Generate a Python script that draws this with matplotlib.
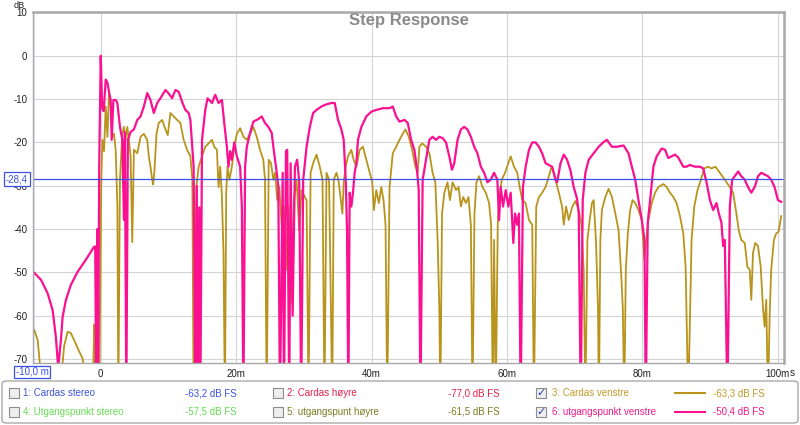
import matplotlib.pyplot as plt
from matplotlib.patches import FancyBboxPatch, Rectangle
from matplotlib.lines import Line2D

plt.rcParams['font.family'] = ['Liberation Sans', 'DejaVu Sans']

# step response, time in ms, level in dB
pink = [(-9.81, -50.1), (-8.82, -51.7), (-7.84, -54.8), (-7.10, -58.7), (-6.62, -64.9),
        (-6.28, -72), (-5.88, -65.6), (-5.63, -60.3), (-5.15, -56.4), (-4.41, -52.9),
        (-3.43, -49.9), (-2.21, -47.1), (-0.99, -44.1), (-0.81, -44.0), (-0.66, -80),
        (-0.51, -40), (-0.40, -80), (-0.22, -25), (0.00, 0.0), (0.22, -12.0),
        (0.44, -12.8), (0.74, -5.5), (0.99, -6.2), (1.22, -8.3), (1.47, -10.2),
        (1.62, -19.4), (1.87, -10.2), (2.21, -10.2), (2.46, -10.9), (2.84, -16.4),
        (3.19, -19.4), (3.43, -37.9), (3.57, -17.6), (3.78, -80), (4.01, -19.4),
        (4.41, -17.6), (4.90, -17.0), (5.40, -14.8), (5.88, -14.0), (6.37, -11.7),
        (6.87, -8.6), (7.35, -10.2), (7.84, -13.2), (8.34, -10.9), (8.82, -9.8),
        (9.56, -7.9), (10.04, -8.7), (10.54, -9.8), (11.03, -7.9), (11.51, -8.3),
        (12.01, -10.6), (12.50, -12.5), (12.99, -13.2), (13.24, -14.8), (13.72, -25.6),
        (13.97, -80), (14.19, -30), (14.34, -80), (14.56, -35), (14.71, -80),
        (14.96, -19.4), (15.44, -12.5), (15.78, -9.8), (16.43, -10.9), (16.91, -9.0),
        (17.40, -10.9), (17.90, -10.2), (18.24, -15.5), (18.63, -21.0), (18.87, -25.6),
        (19.12, -22.0), (19.37, -24.0), (19.71, -20.0), (20.10, -23.2), (20.59, -25.6),
        (20.84, -34.8), (21.07, -80), (21.32, -25.6), (21.57, -21.0), (22.06, -17.8),
        (22.54, -15.2), (23.28, -14.6), (23.78, -14.0), (24.26, -15.5), (24.75, -16.4),
        (25.25, -17.8), (25.49, -21.0), (25.88, -25.6), (26.22, -30.0), (26.47, -80),
        (26.87, -27.0), (27.06, -80), (27.35, -22.0), (27.54, -21.7), (27.84, -80),
        (28.04, -24.8), (28.34, -60.0), (28.68, -25.6), (29.01, -24.0), (29.31, -29.0),
        (29.60, -80), (29.90, -28.6), (30.40, -21.0), (30.88, -16.4), (31.37, -13.2),
        (31.87, -12.5), (32.60, -11.7), (33.34, -11.2), (34.07, -10.9), (34.56, -10.9),
        (35.04, -14.8), (35.54, -17.0), (35.88, -19.4), (36.18, -28.6), (36.37, -40.0),
        (36.57, -80), (36.76, -31.6), (37.01, -34.8), (37.25, -31.6), (37.50, -27.0),
        (37.75, -24.8), (37.99, -19.4), (38.49, -16.4), (39.22, -14.0), (39.96, -12.9),
        (40.69, -12.5), (41.66, -12.1), (42.65, -12.1), (43.13, -11.7), (43.63, -14.0),
        (44.12, -15.2), (44.85, -14.8), (45.34, -15.5), (45.84, -19.4), (46.32, -21.7),
        (46.66, -25.6), (46.96, -31.0), (47.21, -80), (47.54, -28.6), (48.04, -24.0),
        (48.53, -19.4), (49.01, -18.7), (49.51, -19.4), (50.00, -18.7), (50.49, -19.0),
        (50.99, -20.0), (51.47, -23.2), (51.87, -26.3), (52.21, -24.8), (52.69, -19.4),
        (53.19, -17.0), (53.68, -16.4), (54.16, -17.0), (54.66, -18.7), (55.15, -21.0),
        (55.63, -22.5), (56.13, -25.6), (56.62, -27.0), (57.10, -29.2), (57.60, -28.6),
        (58.09, -27.0), (58.57, -28.6), (58.82, -37.9), (59.07, -30.3), (59.41, -34.8),
        (59.81, -31.0), (60.19, -34.8), (60.54, -31.6), (60.93, -43.2), (61.18, -36.4),
        (61.51, -39.0), (61.76, -36.4), (62.01, -80), (62.35, -30.3), (62.75, -25.6),
        (63.24, -21.7), (63.72, -20.0), (64.22, -20.0), (64.71, -21.0), (65.19, -22.5),
        (65.69, -24.8), (66.18, -25.2), (66.66, -25.6), (67.16, -28.6), (67.40, -29.2),
        (67.90, -24.8), (68.38, -22.8), (68.87, -24.0), (69.37, -26.5), (69.85, -30.3),
        (70.34, -33.0), (70.59, -36.4), (70.88, -80), (71.18, -33.3), (71.57, -27.0),
        (72.06, -24.0), (72.79, -22.5), (73.53, -21.0), (74.26, -19.9), (74.75, -19.4),
        (75.49, -21.0), (76.22, -21.0), (77.21, -20.7), (77.94, -22.5), (78.43, -25.6),
        (78.93, -28.6), (79.41, -33.3), (79.90, -37.9), (80.29, -42.5), (80.49, -80),
        (80.78, -38.5), (81.13, -33.3), (81.62, -25.6), (82.10, -23.2), (82.84, -21.4),
        (83.34, -21.7), (83.82, -23.6), (84.31, -23.2), (84.81, -22.8), (85.29, -23.5),
        (86.03, -25.6), (86.51, -25.6), (87.01, -25.2), (87.75, -25.6), (88.49, -25.6),
        (88.97, -26.0), (89.46, -29.2), (89.96, -33.3), (90.44, -35.6), (90.93, -34.0),
        (91.28, -36.4), (91.66, -38.5), (91.91, -43.9), (92.16, -42.5), (92.54, -80),
        (92.90, -34.8), (93.24, -28.6), (93.63, -27.8), (94.12, -26.7), (94.60, -27.8),
        (95.10, -28.6), (95.59, -30.3), (96.07, -31.6), (96.57, -30.3), (97.06, -27.8),
        (97.54, -27.0), (98.04, -27.4), (98.53, -27.8), (99.01, -28.6), (99.51, -30.3),
        (100.00, -33.3), (100.49, -33.7)]

gold = [(-9.81, -63.3), (-9.31, -65.6), (-8.93, -72), (-8.09, -80), (-6.18, -80),
        (-5.40, -67.0), (-4.90, -63.7), (-4.41, -64.0), (-3.93, -65.6), (-3.19, -68.2),
        (-2.69, -69.8), (-2.46, -72), (-1.76, -80), (-1.10, -72), (-0.96, -62.0),
        (-0.74, -80), (-0.44, -45.0), (-0.22, -80), (0.07, -30.0), (0.25, -19.4),
        (0.49, -22.0), (0.74, -11.7), (0.99, -18.7), (1.22, -8.6), (1.47, -11.7),
        (1.72, -18.7), (1.96, -18.0), (2.21, -21.7), (2.46, -34.8), (2.60, -80),
        (2.84, -28.6), (3.19, -18.0), (3.43, -16.4), (3.68, -19.4), (3.93, -16.4),
        (4.16, -19.4), (4.41, -23.2), (4.66, -43.0), (4.90, -21.7), (5.40, -22.5),
        (5.88, -18.7), (6.37, -18.0), (6.87, -19.4), (7.10, -23.2), (7.35, -25.6),
        (7.60, -28.6), (7.75, -29.7), (7.94, -26.3), (8.24, -18.0), (8.57, -15.5),
        (9.07, -14.8), (9.56, -17.0), (9.90, -18.3), (10.29, -13.2), (10.78, -14.0),
        (11.28, -14.8), (11.76, -15.5), (12.25, -19.4), (12.75, -21.7), (13.24, -23.2),
        (13.53, -28.6), (13.72, -80), (14.12, -30.3), (14.46, -25.6), (14.96, -23.2),
        (15.44, -21.0), (15.93, -20.2), (16.43, -19.4), (16.76, -21.0), (17.16, -21.7),
        (17.40, -30.3), (17.65, -25.6), (17.90, -32.6), (18.13, -45.5), (18.34, -80),
        (18.53, -31.6), (18.72, -25.6), (19.01, -28.6), (19.37, -25.6), (19.71, -21.0),
        (20.10, -18.0), (20.59, -16.7), (21.07, -18.7), (21.57, -19.4), (22.06, -18.0),
        (22.54, -16.4), (23.04, -18.7), (23.53, -21.7), (24.01, -24.0), (24.26, -28.6),
        (24.51, -80), (24.81, -24.0), (25.15, -24.8), (25.49, -28.6), (25.74, -27.0),
        (26.07, -33.3), (26.37, -30.3), (26.72, -39.0), (27.06, -34.8), (27.35, -49.4),
        (27.69, -34.8), (28.19, -57.0), (28.53, -33.3), (28.93, -28.6), (29.31, -40.3),
        (29.66, -31.0), (30.15, -32.6), (30.40, -33.3), (30.69, -80), (30.99, -27.0),
        (31.37, -24.8), (31.87, -22.8), (32.35, -25.6), (32.75, -28.6), (33.04, -80),
        (33.34, -27.0), (33.72, -28.6), (34.19, -80), (34.41, -28.6), (34.81, -27.0),
        (35.10, -28.6), (35.40, -32.6), (35.69, -36.4), (35.88, -29.2), (36.18, -25.6),
        (36.51, -23.2), (37.01, -21.7), (37.35, -24.0), (37.75, -25.6), (38.24, -21.7),
        (38.72, -21.0), (39.22, -24.0), (39.71, -27.0), (40.10, -29.2), (40.34, -35.6),
        (40.69, -31.0), (41.07, -34.0), (41.43, -30.3), (41.76, -33.3), (42.06, -39.0),
        (42.31, -80), (42.65, -30.3), (43.13, -22.5), (43.63, -21.0), (44.12, -19.4),
        (44.60, -18.0), (45.00, -17.0), (45.49, -18.7), (45.99, -21.7), (46.47, -25.6),
        (46.81, -27.0), (47.06, -21.0), (47.46, -20.2), (48.04, -21.0), (48.53, -22.5),
        (49.01, -27.0), (49.41, -29.2), (49.75, -42.5), (50.00, -58.0), (50.15, -80),
        (50.40, -36.4), (50.74, -31.6), (51.21, -29.2), (51.57, -33.3), (51.96, -29.2),
        (52.46, -31.0), (52.84, -30.3), (53.19, -34.8), (53.53, -32.6), (53.93, -34.0),
        (54.31, -32.6), (54.66, -39.0), (54.90, -80), (55.19, -36.4), (55.49, -29.2),
        (55.88, -27.8), (56.37, -30.3), (56.87, -31.6), (57.35, -34.0), (57.65, -39.0),
        (57.90, -80), (58.09, -42.5), (58.34, -80), (58.63, -39.0), (58.82, -33.3),
        (59.22, -28.6), (59.71, -27.0), (60.19, -24.8), (60.54, -23.2), (61.03, -25.6),
        (61.51, -27.0), (61.87, -30.3), (62.25, -33.3), (62.75, -34.0), (63.24, -37.9),
        (63.72, -39.0), (63.97, -80), (64.31, -34.8), (64.71, -32.6), (65.19, -31.6),
        (65.69, -30.3), (66.18, -27.8), (66.57, -25.6), (66.91, -27.0), (67.25, -29.2),
        (67.65, -31.6), (68.13, -34.8), (68.38, -39.0), (68.72, -34.8), (69.12, -37.9),
        (69.60, -35.0), (70.10, -33.5), (70.59, -35.6), (70.99, -39.0), (71.32, -49.4),
        (71.57, -80), (71.87, -42.5), (72.16, -38.5), (72.54, -34.0), (72.79, -33.3),
        (73.13, -42.5), (73.43, -58.0), (73.57, -80), (73.78, -42.5), (74.01, -35.6),
        (74.51, -32.6), (75.00, -30.7), (75.49, -32.6), (75.99, -36.4), (76.47, -40.3),
        (76.87, -50.8), (77.10, -58.4), (77.31, -80), (77.54, -49.4), (77.84, -41.0),
        (78.19, -35.6), (78.53, -33.3), (78.93, -34.0), (79.41, -35.6), (79.90, -37.9),
        (80.29, -47.0), (80.59, -42.0), (80.88, -37.9), (81.37, -34.0), (81.87, -31.6),
        (82.35, -30.3), (83.09, -29.6), (83.57, -30.3), (84.07, -31.6), (84.56, -32.6),
        (85.04, -34.0), (85.54, -37.0), (86.03, -41.0), (86.37, -48.7), (86.76, -80),
        (87.25, -42.5), (87.65, -34.8), (88.13, -31.0), (88.63, -28.6), (89.12, -26.0),
        (89.71, -25.6), (90.19, -26.0), (90.78, -25.6), (91.43, -27.0), (92.16, -28.6),
        (92.90, -30.3), (93.38, -31.6), (93.87, -36.4), (94.22, -40.3), (94.60, -42.5),
        (95.10, -43.2), (95.49, -48.7), (95.84, -49.4), (96.07, -56.3), (96.32, -45.5),
        (96.66, -43.2), (97.06, -43.9), (97.46, -48.7), (97.79, -58.0), (98.04, -62.5),
        (98.28, -56.3), (98.53, -80), (98.78, -60.0), (99.01, -49.4), (99.41, -42.5),
        (99.75, -41.0), (100.10, -40.6), (100.49, -37.0)]

pink_t, pink_db = zip(*pink)
gold_t, gold_db = zip(*gold)

x_ticks = [0, 20, 40, 60, 80, 100]
x_labels = ['0', '20m', '40m', '60m', '80m', '100m']
y_ticks = [10, 0, -10, -20, -30, -40, -50, -60, -70]
cursor_t = -10.0
cursor_db = -28.4

legend_names = ['1: Cardas stereo', '2: Cardas høyre', '3: Cardas venstre',
                '4: Utgangspunkt stereo', '5: utgangspunt høyre', '6: utgangspunkt venstre']
legend_levels = ['-63,2 dB FS', '-77,0 dB FS', '-63,3 dB FS',
                 '-57,5 dB FS', '-61,5 dB FS', '-50,4 dB FS']
legend_colors = ['#3a55dd', '#e8224c', '#c49a2a', '#66dd55', '#7c7c22', '#ee1c8c']
legend_checked = [False, False, True, False, False, True]

gold_color = '#b8941c'
pink_color = '#fa1090'
blue = '#3c50e6'

W, H = 800, 425
fig = plt.figure(figsize=(8, 4.25), dpi=100)
fig.patch.set_facecolor('white')


def fx(px):
    return px / W


def fy(py):
    return 1 - py / H


ax = fig.add_axes([fx(33), fy(363), 751 / W, 351 / H])
ax.plot(gold_t, gold_db, color=gold_color, lw=1.3)
ax.plot(pink_t, pink_db, color=pink_color, lw=1.6)
ax.set_xlim(-10, 100.9)
ax.set_ylim(-70.9, 10.1)
ax.set_xticks(x_ticks)
ax.set_xticklabels(x_labels)
ax.set_yticks(y_ticks)
ax.set_yticklabels([str(v) for v in y_ticks])
ax.tick_params(length=0, labelsize=7, pad=4, colors='#202020')
ax.grid(True, color='#d4d4d4', lw=0.8)
ax.set_axisbelow(True)
for side, sp in ax.spines.items():
    sp.set_color('#a8a8a8')
    sp.set_linewidth(1.8 if side in ('top', 'right') else 1.0)

ax.axhline(cursor_db, color=blue, lw=0.9)
ax.axvline(cursor_t, color=blue, lw=1.6)

ax.text(0.5, 0.977, 'Step Response', transform=ax.transAxes, fontsize=12,
        fontweight='bold', color='#8a8a8a', ha='center', va='center')

fig.text(fx(14), fy(5), 'dB', fontsize=6.5, ha='left', va='center', color='#202020')
# time unit after the last tick label
fig.text(fx(790), fy(372.5), 's', fontsize=7, ha='left', va='center', color='#202020')

fig.text(fx(17), fy(179), '-28,4', fontsize=7, ha='center', va='center', color=blue,
         bbox=dict(boxstyle='square,pad=0.2', fc='white', ec=blue, lw=0.9))
fig.text(fx(32), fy(372), '-10,0 m', fontsize=7, ha='center', va='center', color=blue,
         bbox=dict(boxstyle='square,pad=0.15', fc='white', ec=blue, lw=0.9))

# legend panel
fig.patches.append(FancyBboxPatch((fx(2), fy(423)), fx(796), 42 / H,
                                  boxstyle='round,pad=0,rounding_size=0.006',
                                  transform=fig.transFigure, fc='white',
                                  ec='#a0a0a0', lw=0.9))

col_box = [9, 273, 536]
col_name = [23, 287, 552]
col_level = [185, 448, 713]
row_y = [393, 412]
for i, name in enumerate(legend_names):
    r, c = divmod(i, 3)
    y = row_y[r]
    fig.patches.append(Rectangle((fx(col_box[c]), fy(y + 5)), 10 / W, 10 / H,
                                 transform=fig.transFigure, fc='#eeeeee',
                                 ec='#8c8c8c', lw=0.8))
    if legend_checked[i]:
        fig.text(fx(col_box[c] + 5), fy(y), '✓', fontsize=8, ha='center', va='center',
                 color='#2a3fa0', family='DejaVu Sans', fontweight='bold')
        fig.lines.append(Line2D([fx(675), fx(705)], [fy(y), fy(y)],
                                transform=fig.transFigure,
                                color=gold_color if i == 2 else pink_color, lw=1.5))
    fig.text(fx(col_name[c]), fy(y), name, fontsize=7, ha='left', va='center',
             color=legend_colors[i])
    fig.text(fx(col_level[c]), fy(y), legend_levels[i], fontsize=7, ha='left',
             va='center', color=legend_colors[i])

fig.savefig('out.png', dpi=100)
